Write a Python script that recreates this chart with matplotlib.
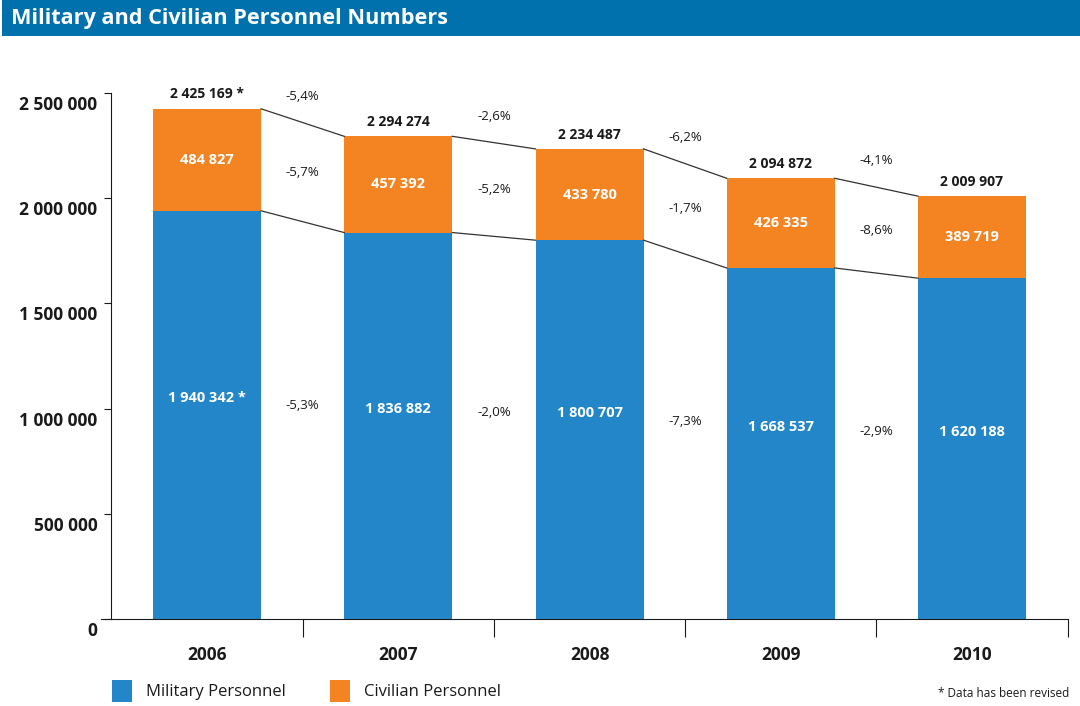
import matplotlib.pyplot as plt
from matplotlib.patches import Rectangle
import matplotlib.transforms as mtransforms
import numpy as np

# data
years = ["2006", "2007", "2008", "2009", "2010"]
military = [1940342, 1836882, 1800707, 1668537, 1620188]
civilian = [484827, 457392, 433780, 426335, 389719]
revised = [True, False, False, False, False]
pct_total = ["-5,4%", "-2,6%", "-6,2%", "-4,1%"]
pct_civilian = ["-5,7%", "-5,2%", "-1,7%", "-8,6%"]
pct_military = ["-5,3%", "-2,0%", "-7,3%", "-2,9%"]
yticks = [0, 500000, 1000000, 1500000, 2000000, 2500000]

blue = "#2386C8"
orange = "#F48322"
dark = "#1a1a1a"
font = "Open Sans"

def fmt(v):
    return "{:,}".format(v).replace(",", " ")

fig = plt.figure(figsize=(10.8, 7.06), dpi=100)

# title bar
fig.patches.append(Rectangle((0.002, 0.949), 0.998, 0.051, transform=fig.transFigure,
                             facecolor="#0071AD", edgecolor="none"))
fig.text(0.010, 0.974, "Military and Civilian Personnel Numbers", color="white",
         fontsize=15.6, fontweight="bold", family=font, va="center", ha="left")

ax = fig.add_axes([0.0935, 0.1232, 0.895, 0.745])
x = np.arange(len(years))
mil = np.array(military)
civ = np.array(civilian)
tot = mil + civ
w = 0.565

ax.bar(x, mil, width=w, color=blue, linewidth=0)
ax.bar(x, civ, width=w, bottom=mil, color=orange, linewidth=0)

# connecting lines
for i in range(len(years) - 1):
    for top in (tot, mil):
        ax.plot([x[i] + w / 2, x[i + 1] - w / 2], [top[i], top[i + 1]],
                color="#333333", linewidth=0.9)

# labels
for i in range(len(years)):
    star = " *" if revised[i] else ""
    ax.text(x[i], tot[i] + 35000, fmt(tot[i]) + star, ha="center", va="bottom",
            fontsize=10, fontweight="bold", family=font, color=dark)
    ax.text(x[i], mil[i] + civ[i] / 2, fmt(civ[i]), ha="center", va="center",
            fontsize=10.5, fontweight="bold", family=font, color="white")
    ax.text(x[i], mil[i] / 2 + 80000, fmt(mil[i]) + star, ha="center", va="center",
            fontsize=10.5, fontweight="bold", family=font, color="white")

for i in range(len(years) - 1):
    xm = (x[i] + x[i + 1]) / 2
    tmid = (tot[i] + tot[i + 1]) / 2
    mmid = (mil[i] + mil[i + 1]) / 2
    ax.text(xm, tmid + 125000, pct_total[i], ha="center", va="center",
            fontsize=9.5, family=font, color=dark)
    ax.text(xm, (tmid + mmid) / 2, pct_civilian[i], ha="center", va="center",
            fontsize=9.5, family=font, color=dark)
    ax.text(xm, mmid / 2 + 70000, pct_military[i], ha="center", va="center",
            fontsize=9.5, family=font, color=dark)

ax.set_xlim(-0.555, 4.5)
ax.set_ylim(0, 2500000)
for s in ("top", "right"):
    ax.spines[s].set_visible(False)
ax.spines["left"].set_position(("data", -0.5))
ax.spines["left"].set_color(dark)
ax.spines["bottom"].set_color(dark)

ax.set_yticks(yticks)
ax.set_yticklabels([fmt(v) for v in yticks], fontsize=12.5, fontweight="bold",
                   family=font, color=dark)
ax.tick_params(axis="y", length=5, direction="out", color=dark, pad=5)
shift = mtransforms.ScaledTranslation(0, -10 / 100, fig.dpi_scale_trans)
for lab in ax.get_yticklabels():
    lab.set_transform(lab.get_transform() + shift)

ax.set_xticks(x + 0.5)
ax.set_xticklabels([])
ax.tick_params(axis="x", length=13, direction="out", color=dark)
for i, yr in enumerate(years):
    ax.text(x[i], -172000, yr, ha="center", va="center", fontsize=12.5,
            fontweight="bold", family=font, color=dark)

# legend
fig.patches.append(Rectangle((0.1037, 0.005), 0.0185, 0.032, transform=fig.transFigure,
                             facecolor=blue, edgecolor="none"))
fig.text(0.135, 0.020, "Military Personnel", fontsize=12, fontweight="medium",
         family=font, va="center", color=dark)
fig.patches.append(Rectangle((0.3055, 0.005), 0.0185, 0.032, transform=fig.transFigure,
                             facecolor=orange, edgecolor="none"))
fig.text(0.337, 0.020, "Civilian Personnel", fontsize=12, fontweight="medium",
         family=font, va="center", color=dark)
fig.text(0.990, 0.017, "* Data has been revised", fontsize=8.5, family=font,
         va="center", ha="right", color=dark)

fig.savefig("out.png", dpi=100)
